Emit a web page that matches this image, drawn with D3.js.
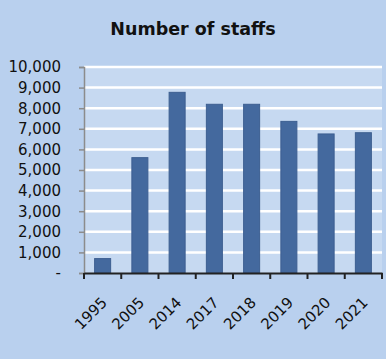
<!DOCTYPE html>
<html lang="en">
<head>
<meta charset="UTF-8">
<title>Number of staffs</title>
<script src="https://d3js.org/d3.v7.min.js"></script>
<style>
body{margin:0; background:#b9d0ee;}
</style>
</head>
<body>
<div id="chart"></div>
<script>
// data
var years = ["1995","2005","2014","2017","2018","2019","2020","2021"];
var staffs = [700, 5600, 8770, 8190, 8190, 7360, 6750, 6810];
var yTicks = [0,1000,2000,3000,4000,5000,6000,7000,8000,9000,10000];

var w = 386, h = 359;
var m = {top: 67, right: 4, bottom: 86, left: 84};

var svg = d3.select("#chart").append("svg")
	.attr("width", w)
	.attr("height", h);

svg.append("rect")
	.attr("width", w).attr("height", h)
	.attr("fill", "#b9d0ee");

var x = d3.scaleBand()
	.domain(years)
	.range([m.left, w - m.right])
	.paddingInner(0.57)
	.paddingOuter(0.285);

var y = d3.scaleLinear()
	.domain([0, 10000])
	.range([h - m.bottom, m.top]);

// plot area
svg.append("rect")
	.attr("x", m.left).attr("y", m.top)
	.attr("width", w - m.right - m.left)
	.attr("height", h - m.bottom - m.top)
	.attr("fill", "#c6d9f1");

// gridlines
svg.selectAll("line.grid")
	.data(yTicks.slice(1))
	.enter().append("line")
	.attr("class", "grid")
	.attr("x1", m.left).attr("x2", w - m.right)
	.attr("y1", function(d){ return y(d); })
	.attr("y2", function(d){ return y(d); })
	.attr("stroke", "#ffffff")
	.attr("stroke-width", 2.5);

// bars
svg.selectAll("rect.bar")
	.data(staffs)
	.enter().append("rect")
	.attr("class", "bar")
	.attr("x", function(d, i){ return x(years[i]); })
	.attr("y", function(d){ return y(d); })
	.attr("width", x.bandwidth())
	.attr("height", function(d){ return y(0) - y(d); })
	.attr("fill", "#44699e")
	.attr("stroke", "#3d5f91")
	.attr("stroke-width", 1);

// y axis
var yAxis = d3.axisLeft(y)
	.tickValues(yTicks)
	.tickSize(5)
	.tickPadding(18)
	.tickFormat(function(d){ return d === 0 ? "-" : d3.format(",")(d); });

var gy = svg.append("g")
	.attr("transform", "translate(" + m.left + ",0)")
	.call(yAxis);
gy.select(".domain").attr("stroke", "#8c8c8c").attr("stroke-width", 1.5);
gy.selectAll(".tick line").attr("stroke", "#8c8c8c").attr("stroke-width", 1.5);
gy.selectAll("text")
	.attr("font-family", "DejaVu Sans")
	.attr("font-size", "15px")
	.attr("fill", "#111");

// x axis
var xAxis = d3.axisBottom(x).tickSize(0).tickFormat("");
var gx = svg.append("g")
	.attr("transform", "translate(0," + y(0) + ")")
	.call(xAxis);
gx.select(".domain").attr("stroke", "#222").attr("stroke-width", 2);

// x tick marks on category boundaries
var step = x.step();
var bounds = d3.range(years.length + 1).map(function(i){ return m.left + i * step; });
gx.selectAll("line.xt")
	.data(bounds)
	.enter().append("line")
	.attr("class", "xt")
	.attr("x1", function(d){ return d; }).attr("x2", function(d){ return d; })
	.attr("y1", 0).attr("y2", 6)
	.attr("stroke", "#222").attr("stroke-width", 2);

gx.selectAll("text.lab")
	.data(years)
	.enter().append("text")
	.attr("class", "lab")
	.attr("transform", function(d){
		return "translate(" + (x(d) + x.bandwidth() / 2 - 2) + ",23) rotate(-45)";
	})
	.attr("text-anchor", "end")
	.attr("dy", "0.7em")
	.attr("font-family", "DejaVu Sans")
	.attr("font-size", "15px")
	.attr("fill", "#111")
	.text(function(d){ return d; });

// title
svg.append("text")
	.attr("x", 193).attr("y", 35)
	.attr("text-anchor", "middle")
	.attr("font-family", "DejaVu Sans")
	.attr("font-weight", "bold")
	.attr("font-size", "17.5px")
	.attr("fill", "#111")
	.text("Number of staffs");
</script>
</body>
</html>
